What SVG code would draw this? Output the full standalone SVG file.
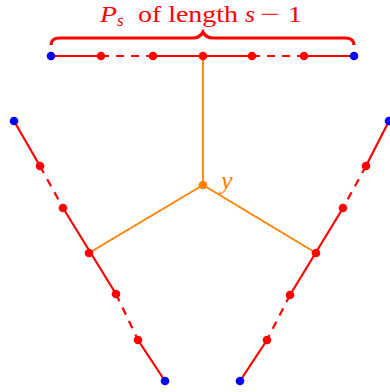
<svg xmlns="http://www.w3.org/2000/svg" width="390" height="392" viewBox="0 0 390 392">
<style>
.r{stroke:#FF0000;stroke-width:2.2;fill:none;stroke-linecap:butt}
.d{stroke-dasharray:8,7}
.o{stroke:#FF8000;stroke-width:1.8;fill:none}
.rn{fill:#FF0000}
.bn{fill:#0000FF}
.on{fill:#FF8000}
.t{font-family:"Liberation Serif",serif;fill:#FF0000;font-size:24px}
.i{font-style:italic}
</style>
<rect width="390" height="392" fill="#fff"/>
<g id="connectors">
  <path class="o" d="M203,56 L203,185 M203,185 L89,253 M203,185 L316,253"/>
  <path class="r" d="M51,56 L101,56 M153,56 L252,56 M304,56 L354,56"/>
  <path class="r d" d="M101,56 L153,56 M252,56 L304,56"/>
  <path class="r" d="M14,121 L40,166 M63,208 L116,294 M138,340 L165,381"/>
  <path class="r d" d="M40,166 L63,208 M116,294 L138,340"/>
  <path class="r" d="M389,121 L366,166 M343,208 L290,295 M267,340 L240,381"/>
  <path class="r d" d="M366,166 L343,208 M290,295 L267,340"/>
</g>
<g id="brace">
  <path d="M51,45 Q51,38 60,38 L193,38 Q200,38 203,32 Q206,38 213,38 L345,38 Q354,38 354,45" stroke="#FF0000" stroke-width="3.2" fill="none"/>
  <text class="t" y="21.5"><tspan class="i" x="100" textLength="17" lengthAdjust="spacingAndGlyphs">P</tspan><tspan class="i" x="117" y="25.5" font-size="17">s</tspan><tspan x="138" y="21.5" textLength="100" lengthAdjust="spacingAndGlyphs">of length</tspan><tspan class="i" x="245" textLength="10" lengthAdjust="spacingAndGlyphs">s</tspan><tspan x="260" textLength="20" lengthAdjust="spacingAndGlyphs">−</tspan><tspan x="288" textLength="14" lengthAdjust="spacingAndGlyphs">1</tspan></text>
</g>
<g id="top-path">
  <circle class="bn" cx="51" cy="56" r="4.3"/>
  <circle class="rn" cx="101" cy="56" r="4.3"/>
  <circle class="rn" cx="153" cy="56" r="4.3"/>
  <circle class="rn" cx="203" cy="56" r="4.3"/>
  <circle class="rn" cx="252" cy="56" r="4.3"/>
  <circle class="rn" cx="304" cy="56" r="4.3"/>
  <circle class="bn" cx="354" cy="56" r="4.3"/>
</g>
<g id="left-path">
  <circle class="bn" cx="14" cy="121" r="4.3"/>
  <circle class="rn" cx="40" cy="166" r="4.3"/>
  <circle class="rn" cx="63" cy="208" r="4.3"/>
  <circle class="rn" cx="89" cy="253" r="4.3"/>
  <circle class="rn" cx="116" cy="294" r="4.3"/>
  <circle class="rn" cx="138" cy="340" r="4.3"/>
  <circle class="bn" cx="165" cy="381" r="4.3"/>
</g>
<g id="right-path">
  <circle class="bn" cx="389" cy="121" r="4.3"/>
  <circle class="rn" cx="366" cy="166" r="4.3"/>
  <circle class="rn" cx="343" cy="208" r="4.3"/>
  <circle class="rn" cx="316" cy="253" r="4.3"/>
  <circle class="rn" cx="290" cy="295" r="4.3"/>
  <circle class="rn" cx="267" cy="340" r="4.3"/>
  <circle class="bn" cx="240" cy="381" r="4.3"/>
</g>
<g id="y">
  <circle class="on" cx="203" cy="185" r="4.3"/>
  <text x="221" y="189" font-family="Liberation Serif,serif" font-style="italic" font-size="26" fill="#FF8000">y</text>
</g>
</svg>
